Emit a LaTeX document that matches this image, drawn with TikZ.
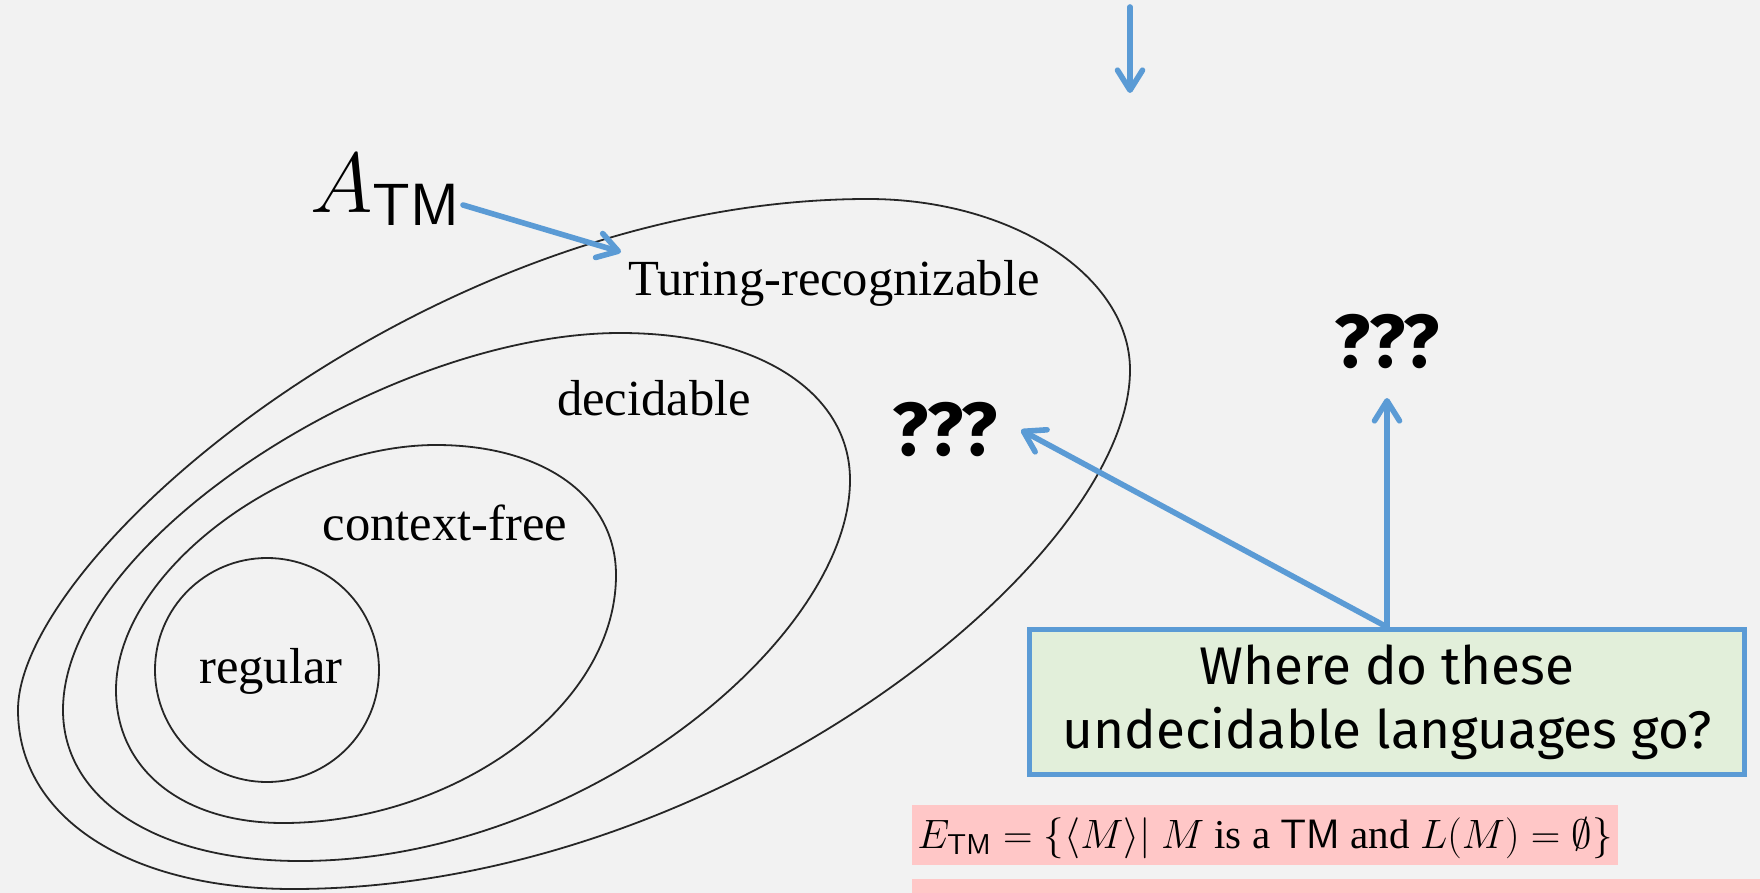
\RequirePackage{fix-cm}
\documentclass[tikz,border=0pt]{standalone}
\usepackage{amsmath}
\usepackage{fontspec}
\setmainfont{Liberation Serif}
\newfontfamily\fira{Fira Sans}
\usetikzlibrary{arrows.meta,calc}
\definecolor{bg}{HTML}{F2F2F2}
\definecolor{myblue}{HTML}{5B9BD5}
\definecolor{boxgreen}{HTML}{E2EFDA}
\definecolor{pinkbg}{HTML}{FFC7C7}
\begin{document}
\begin{tikzpicture}[x=0.5pt,y=-0.5pt,
  setline/.style={draw=black!85,line width=0.9pt},
  lbl/.style={font=\fontsize{25.3}{30}\selectfont,inner sep=0pt,anchor=base},
  qq/.style={font=\fira\bfseries\fontsize{37.5}{45}\selectfont,inner sep=0pt,anchor=base},
  barrow/.style={draw=myblue,line width=2.8pt,line cap=round,line join=round,
    -{Straight Barb[length=10pt,width=12.5pt,round]}}]
\useasboundingbox (0,0) rectangle (1760,893);
\fill[bg] (0,0) rectangle (1760,893);

% Turing-recognizable
\draw[setline] (868,199) .. controls (1012,199) and (1130,276) .. (1130,370)
  .. controls (1130,560) and (720,889) .. (293,889)
  .. controls (128,889) and (18,817) .. (18,710)
  .. controls (18,555) and (430,199) .. (868,199) -- cycle;
% decidable
\draw[setline] (620,333) .. controls (758,333) and (850,392) .. (850,480)
  .. controls (850,640) and (580,861) .. (300,861)
  .. controls (158,861) and (63,800) .. (63,710)
  .. controls (63,540) and (390,333) .. (620,333) -- cycle;
% context-free
\draw[setline] (436,445) .. controls (544,445) and (616,497) .. (616,575)
  .. controls (616,710) and (450,823) .. (283,823)
  .. controls (183,823) and (116,770) .. (116,690)
  .. controls (116,570) and (290,445) .. (436,445) -- cycle;
% regular
\draw[setline] (267,670) circle[radius=112];

\node[lbl] (ltr) at (834,295) {Turing-recognizable};
\node[lbl] (ldec) at (654,415) {decidable};
\node[lbl] (lcf) at (445,540) {context-free};
\node[lbl] (lreg) at (271,683) {regular};

\node[inner sep=0pt,anchor=base west,font=\fontsize{42.5}{50}\selectfont] (atm) at (310,213) {$A_{\textsf{TM}}$};

\node[qq] (q1) at (945,455) {???};
\node[qq] (q2) at (1387,367) {???};

\node[draw=myblue,line width=2.5pt,fill=boxgreen,minimum width=357.5pt,minimum height=72.5pt,
  align=center,inner sep=0pt,font=\fira\fontsize{26.5}{32}\selectfont] (box) at (1387,702)
  {Where do these\\undecidable languages go?};

\node[fill=pinkbg,inner xsep=2.5pt,inner ysep=0pt,text height=21.5pt,text depth=8.5pt,
  anchor=base west,font=\fontsize{20.5}{24}\selectfont] (etm) at (912,848)
  {$E_{\textsf{TM}} = \{\langle M\rangle|\ M \text{ is a } \textsf{TM} \text{ and } L(M) = \emptyset\}$};
\fill[pinkbg] (912,879) rectangle (1760,893);

\coordinate (topA) at (1130,7);
\coordinate (topB) at (1130,93);
\coordinate (atmout) at (463,205);
\coordinate (tipT) at (621,252);
\coordinate (tipL) at (1021,430);
\coordinate (tipR) at (1387,398);

\draw[barrow] (topA) -- (topB);
\draw[barrow] (atmout) -- (tipT);
\draw[barrow] (box.north) -- (tipL);
\draw[barrow] (box.north) -- (tipR);
\end{tikzpicture}
\end{document}
